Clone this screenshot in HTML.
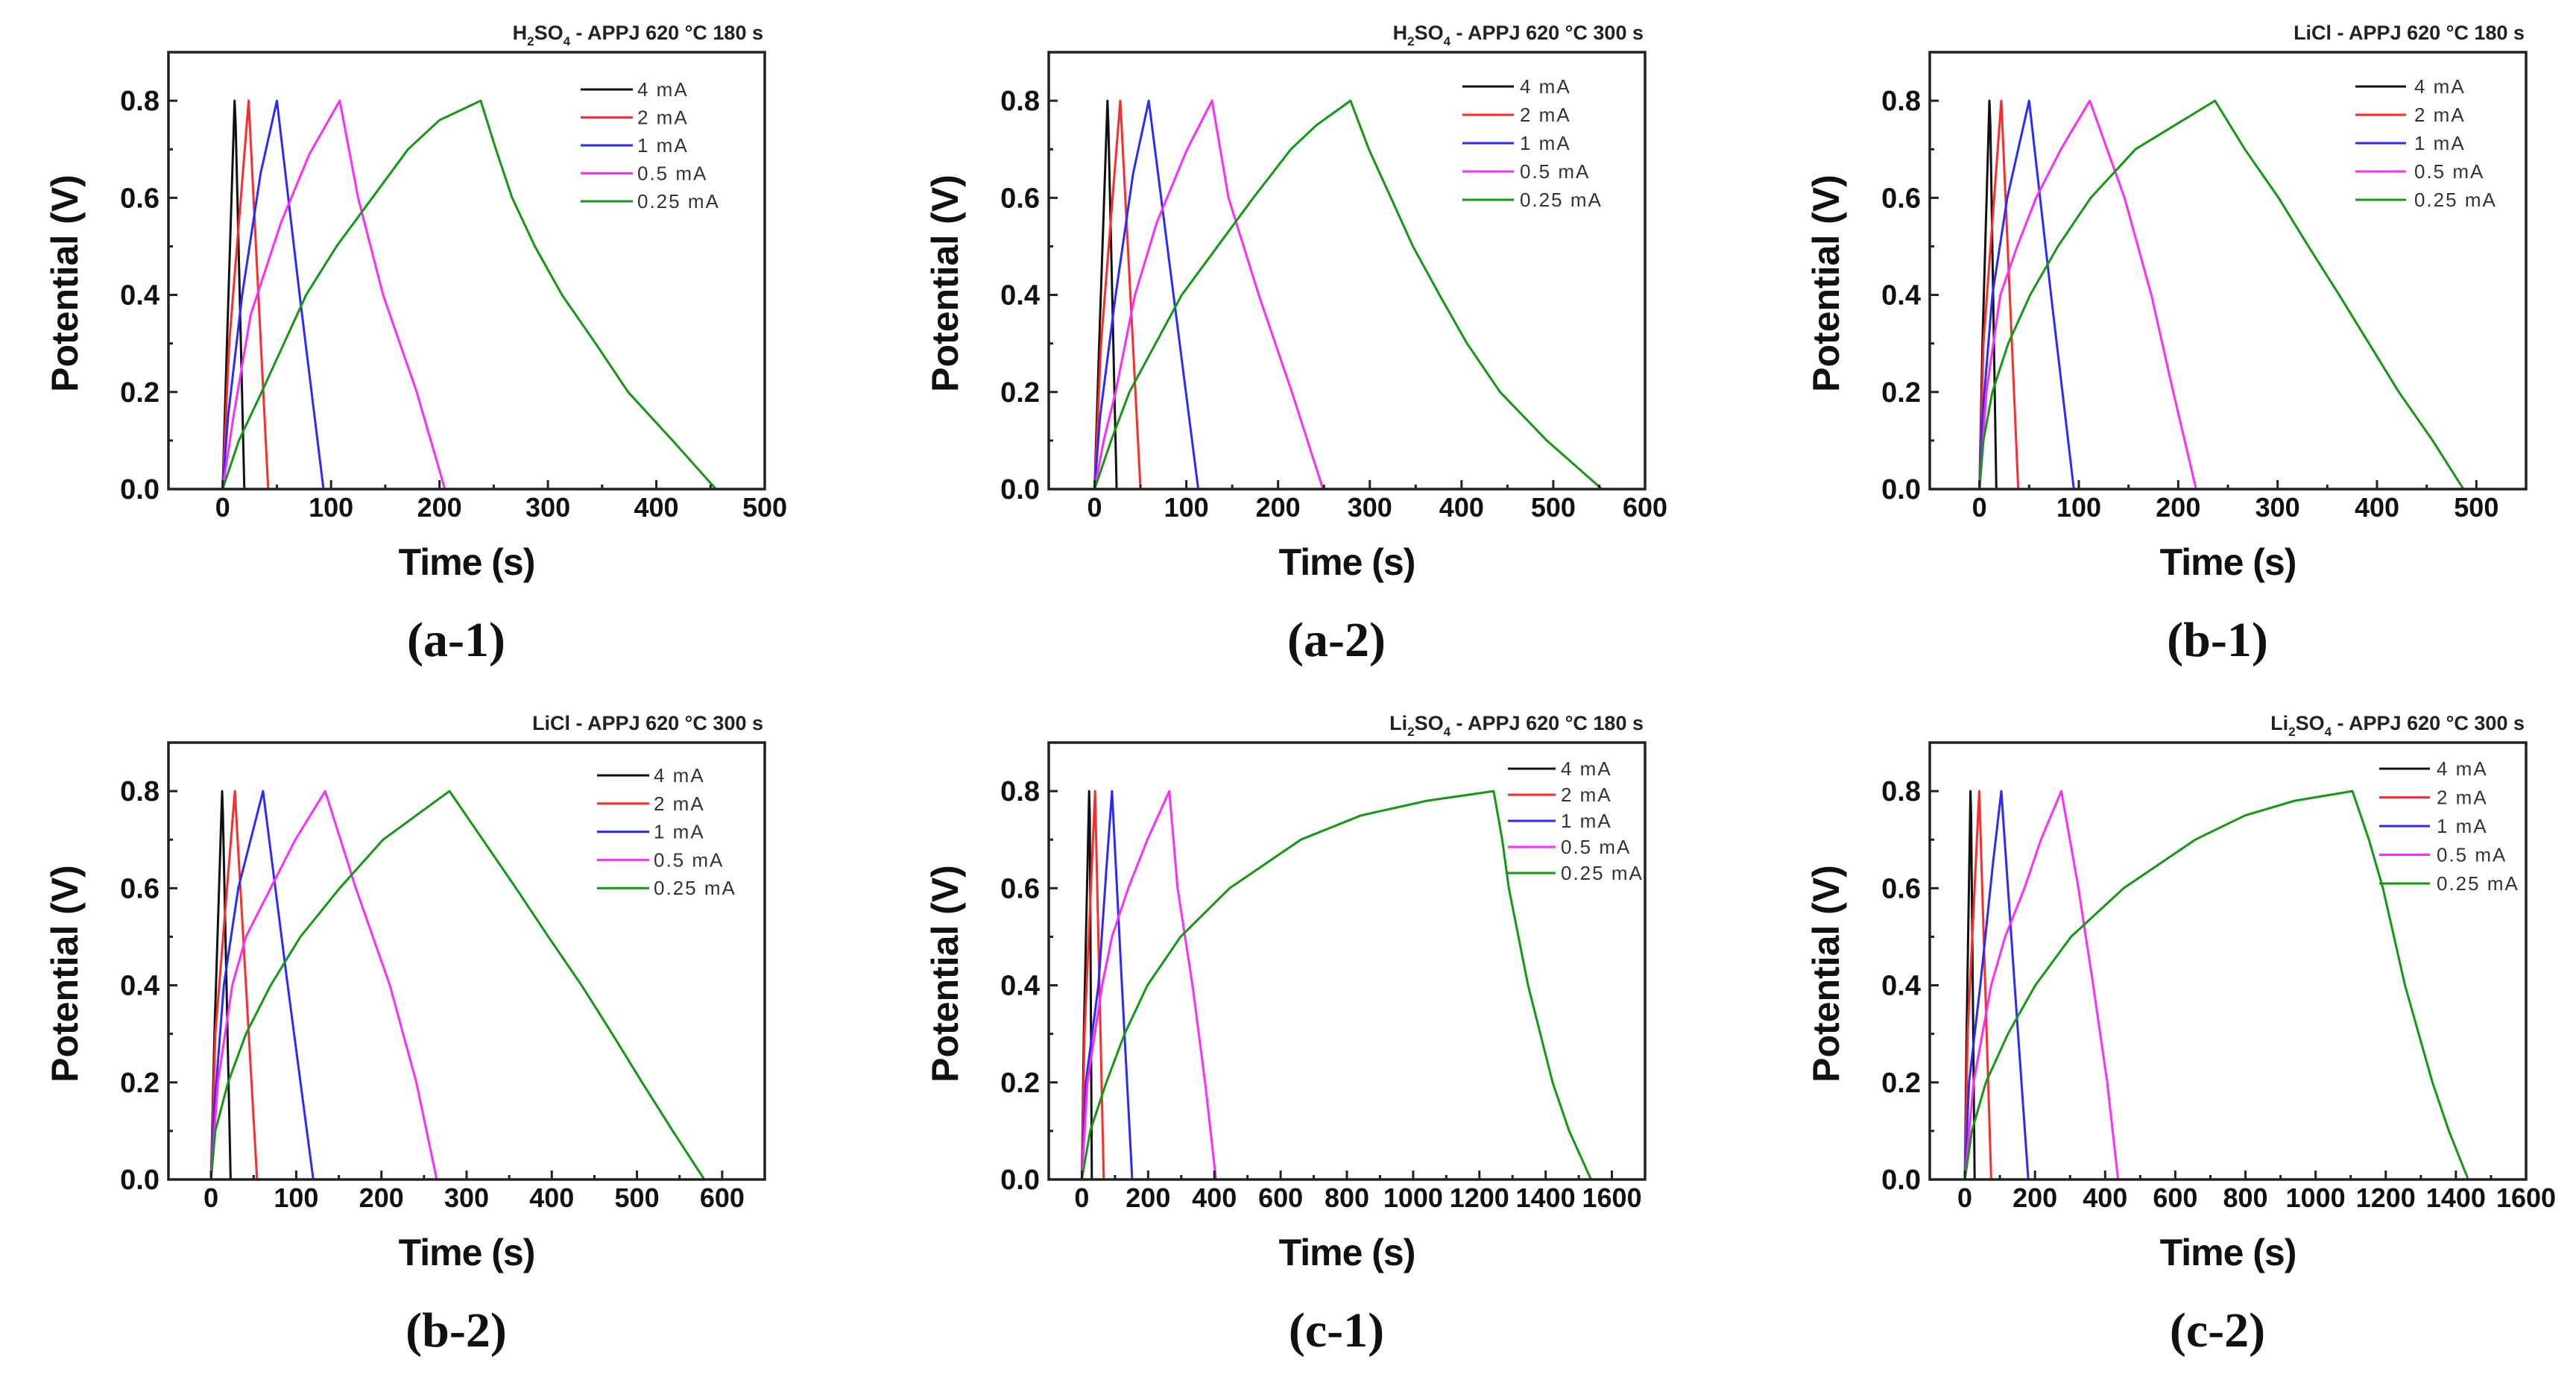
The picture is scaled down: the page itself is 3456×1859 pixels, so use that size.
<!DOCTYPE html>
<html><head><meta charset="utf-8"><style>
html,body{margin:0;padding:0;background:#fff;}
svg{display:block;}
text{font-family:"Liberation Sans",Arial,sans-serif;}
</style></head><body>
<svg id="fig" xmlns="http://www.w3.org/2000/svg" width="3456" height="1859" viewBox="0 0 3456 1859"></svg>
<script>
// ---- data ----
const seriesLabels = ["4 mA","2 mA","1 mA","0.5 mA","0.25 mA"];
const seriesColors = ["#111111","#ff2a2a","#2a2aff","#ff2aff","#119911"];
const yTicks = [0.0,0.2,0.4,0.6,0.8];
const panelNames = ["a-1","a-2","b-1","b-2","c-1","c-2"];
const panelTitles = [
  [["H",""],["2","sub"],["SO",""],["4","sub"],[" - APPJ 620 °C 180 s",""]],
  [["H",""],["2","sub"],["SO",""],["4","sub"],[" - APPJ 620 °C 300 s",""]],
  [["LiCl - APPJ 620 °C 180 s",""]],
  [["LiCl - APPJ 620 °C 300 s",""]],
  [["Li",""],["2","sub"],["SO",""],["4","sub"],[" - APPJ 620 °C 180 s",""]],
  [["Li",""],["2","sub"],["SO",""],["4","sub"],[" - APPJ 620 °C 300 s",""]]
];
const xDomains = [[-50,500],[-50,600],[-50,550],[-50,650],[-100,1700],[-100,1600]];
const xTickLabels = [
  [0,100,200,300,400,500],
  [0,100,200,300,400,500,600],
  [0,100,200,300,400,500],
  [0,100,200,300,400,500,600],
  [0,200,400,600,800,1000,1200,1400,1600],
  [0,200,400,600,800,1000,1200,1400,1600]
];
const xMinorStep = [50,50,50,50,100,100];

// series [time, potential] for each panel
const dataA1 = [
  [[0,0],[4,0.3],[11,0.8],[12,0.75],[20,0]],
  [[0,0],[6,0.3],[24,0.8],[42,0]],
  [[0,0],[5,0.15],[18,0.4],[35,0.65],[50,0.8],[71,0.4],[93,0]],
  [[0,0],[10,0.15],[26,0.36],[54,0.55],[80,0.69],[108,0.8],[125,0.6],[148,0.4],[179,0.2],[205,0]],
  [[0,0],[15,0.1],[36,0.2],[77,0.4],[105,0.5],[138,0.6],[171,0.7],[200,0.76],[238,0.8],[252,0.7],[267,0.6],[288,0.5],[313,0.4],[344,0.3],[374,0.2],[415,0.1],[455,0]]
];
const dataA2 = [
  [[0,0],[5,0.3],[14,0.8],[15,0.75],[24,0]],
  [[0,0],[7,0.3],[28,0.8],[50,0]],
  [[0,0],[6,0.15],[23,0.4],[42,0.65],[59,0.8],[86,0.4],[113,0]],
  [[0,0],[10,0.1],[23,0.2],[44,0.4],[68,0.55],[101,0.7],[128,0.8],[146,0.6],[179,0.4],[215,0.2],[249,0]],
  [[0,0],[18,0.1],[38,0.2],[95,0.4],[173,0.6],[214,0.7],[242,0.75],[279,0.8],[299,0.7],[323,0.6],[347,0.5],[376,0.4],[406,0.3],[442,0.2],[493,0.1],[553,0]]
];
const dataB1 = [
  [[0,0],[3,0.3],[10,0.8],[11,0.75],[17,0]],
  [[0,0],[4,0.3],[22,0.8],[39,0]],
  [[0,0],[3,0.15],[13,0.4],[28,0.6],[50,0.8],[72,0.4],[95,0]],
  [[0,0],[7,0.2],[21,0.4],[38,0.5],[57,0.6],[82,0.7],[111,0.8],[146,0.6],[173,0.4],[195,0.2],[218,0]],
  [[0,0],[4,0.1],[13,0.2],[29,0.3],[51,0.4],[79,0.5],[112,0.6],[157,0.7],[237,0.8],[267,0.7],[301,0.6],[331,0.5],[362,0.4],[392,0.3],[422,0.2],[456,0.1],[487,0]]
];
const dataB2 = [
  [[0,0],[4,0.3],[13,0.8],[14,0.75],[23,0]],
  [[0,0],[5,0.3],[28,0.8],[54,0]],
  [[0,0],[4,0.15],[15,0.4],[32,0.6],[61,0.8],[90,0.4],[120,0]],
  [[0,0],[8,0.2],[25,0.4],[41,0.5],[70,0.6],[99,0.7],[134,0.8],[170,0.6],[210,0.4],[241,0.2],[265,0]],
  [[0,0],[5,0.1],[20,0.2],[41,0.3],[70,0.4],[105,0.5],[151,0.6],[202,0.7],[280,0.8],[319,0.7],[358,0.6],[396,0.5],[435,0.4],[471,0.3],[506,0.2],[542,0.1],[579,0]]
];
const dataC1 = [
  [[0,0],[6,0.3],[22,0.8],[24,0.75],[30,0]],
  [[0,0],[8,0.3],[40,0.8],[66,0]],
  [[0,0],[12,0.2],[50,0.4],[75,0.65],[91,0.8],[121,0.4],[152,0]],
  [[0,0],[17,0.2],[61,0.4],[91,0.5],[140,0.6],[198,0.7],[264,0.8],[289,0.6],[334,0.4],[372,0.2],[405,0]],
  [[0,0],[25,0.1],[74,0.2],[129,0.3],[198,0.4],[298,0.5],[446,0.6],[661,0.7],[843,0.75],[1041,0.78],[1243,0.8],[1269,0.7],[1289,0.6],[1347,0.4],[1421,0.2],[1471,0.1],[1537,0]]
];
const dataC2 = [
  [[0,0],[5,0.3],[16,0.8],[18,0.75],[28,0]],
  [[0,0],[8,0.3],[41,0.8],[75,0]],
  [[0,0],[12,0.2],[44,0.4],[80,0.65],[104,0.8],[142,0.4],[181,0]],
  [[0,0],[25,0.2],[75,0.4],[115,0.5],[170,0.6],[217,0.7],[275,0.8],[324,0.6],[366,0.4],[406,0.2],[437,0]],
  [[0,0],[20,0.1],[60,0.2],[123,0.3],[201,0.4],[303,0.5],[453,0.6],[657,0.7],[799,0.75],[940,0.78],[1105,0.8],[1152,0.7],[1192,0.6],[1255,0.4],[1333,0.2],[1380,0.1],[1435,0]]
];
const panelData = [dataA1,dataA2,dataB1,dataB2,dataC1,dataC2];

// ---- layout ----
const NS = "http://www.w3.org/2000/svg";
const svg = document.getElementById("fig");
const boxLeft = [226,1407,2589,226,1407,2589];
const boxTop = [70,70,70,996,996,996];
const BW = 800, BH = 586;
const legendLayout = [[553,623,629,50,37.5],[555,624,632,46,38],[571,639,650,46,38],[575,645,651,44,37.8],[616,680,687,35,35],[603,671,680,35,38.5]];
const labelCenterX = [612,1793,2975,612,1793,2975];

function mk(tag, attrs, parent){
  const e = document.createElementNS(NS, tag);
  for (const k in attrs) e.setAttribute(k, attrs[k]);
  (parent||svg).appendChild(e);
  return e;
}

panelNames.forEach((pn, p) => {
  const g = mk("g", {});
  
  
  const bx = boxLeft[p], by = boxTop[p];
  const [x0, x1] = xDomains[p];
  const sx = t => bx + (t - x0) / (x1 - x0) * BW;
  const sy = v => by + BH - v / 0.9 * BH;

  panelData[p].forEach((pts, s) => {
    const d = pts.map((q, i) => (i ? "L" : "M") + sx(q[0]).toFixed(1) + "," + sy(q[1]).toFixed(1)).join(" ");
    const path = mk("path", {d: d, fill: "none", stroke: seriesColors[s], "stroke-width": 3, "stroke-linejoin": "round"}, g);
    
    
  });

  const box = mk("rect", {x: bx, y: by, width: BW, height: BH, fill: "none", stroke: "#222", "stroke-width": 3.5}, g);
  
  

  for (let t = Math.ceil(x0 / xMinorStep[p]) * xMinorStep[p]; t <= x1; t += xMinorStep[p]) {
    const major = xTickLabels[p].indexOf(t) >= 0;
    const X = sx(t);
    mk("line", {x1: X, x2: X, y1: by + BH, y2: by + BH - (major ? 12 : 6), stroke: "#222", "stroke-width": 3}, g);
  }
  xTickLabels[p].forEach(t => {
    const tx = mk("text", {x: sx(t), y: by + BH + 37, "text-anchor": "middle", "font-size": 36, "font-weight": "bold", fill: "#111"}, g);
    tx.textContent = t;
    
    
  });
  for (let k = 1; k <= 8; k++) {
    const v = k / 10, Y = sy(v), major = k % 2 === 0;
    mk("line", {x1: bx, x2: bx + (major ? 12 : 6), y1: Y, y2: Y, stroke: "#222", "stroke-width": 3}, g);
  }
  yTicks.forEach(v => {
    const ty = mk("text", {x: bx - 12, y: sy(v) + 13, "text-anchor": "end", "font-size": 38, "font-weight": "bold", fill: "#111"}, g);
    ty.textContent = v.toFixed(1);
    
    
  });

  const yt = mk("text", {x: 0, y: 0, transform: "translate(" + (bx - 122) + "," + (by + 310) + ") rotate(-90)", "text-anchor": "middle", "font-size": 50, "font-weight": "bold", fill: "#111"}, g);
  yt.textContent = "Potential (V)";
  
  
  const xt = mk("text", {x: bx + BW / 2, y: by + BH + 115, "text-anchor": "middle", "font-size": 50, "font-weight": "bold", fill: "#111", "letter-spacing": "-1"}, g);
  xt.textContent = "Time (s)";
  
  

  const tt = mk("text", {x: bx + BW - 2, y: by - 17, "text-anchor": "end", "font-size": 27, "font-weight": "bold", fill: "#222"}, g);
  
  
  let prevSub = false;
  panelTitles[p].forEach(part => {
    const sp = mk("tspan", {}, tt);
    const isSub = part[1] === "sub";
    if (isSub) { sp.setAttribute("font-size", 17); sp.setAttribute("dy", 8); }
    else if (prevSub) { sp.setAttribute("dy", -8); }
    prevSub = isSub;
    sp.textContent = part[0];
  });

  const L = legendLayout[p];
  const lg = mk("g", {}, g);
  
  
  seriesLabels.forEach((lab, s) => {
    const Y = by + L[3] + s * L[4];
    const ln = mk("line", {x1: bx + L[0], x2: bx + L[1], y1: Y, y2: Y, stroke: seriesColors[s], "stroke-width": 3}, lg);
    
    
    const lt = mk("text", {x: bx + L[2], y: Y + 9, "font-size": 26, fill: "#333", "letter-spacing": "2"}, lg);
    lt.textContent = lab;
    
    
  });

  const pl = mk("text", {x: labelCenterX[p], y: by + 810, "text-anchor": "middle", "font-size": 66, "font-weight": "bold", fill: "#111", style: "font-family:'Liberation Serif',serif"}, g);
  pl.textContent = "(" + pn + ")";
  
  
});
</script>
</body></html>
